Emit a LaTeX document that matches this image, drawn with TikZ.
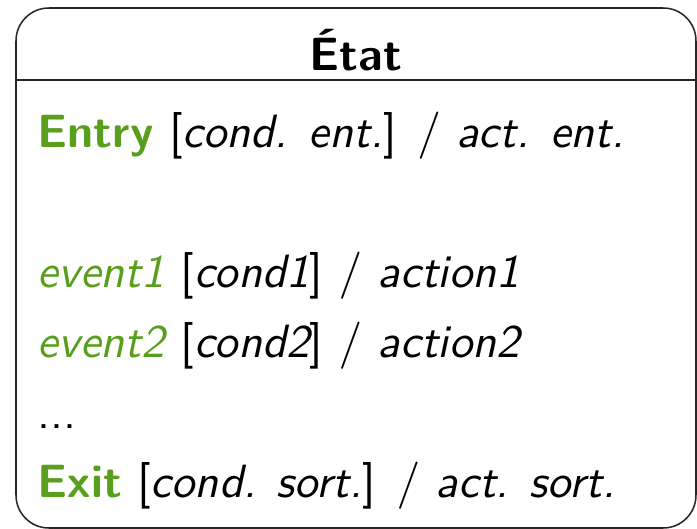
\documentclass[tikz,border=0pt]{standalone}
\usepackage{tikz}
\definecolor{vert}{RGB}{90,158,30}

\begin{document}
\begin{tikzpicture}[x=0.2315pt,y=-0.2315pt]
				\tikzstyle{every node}=[inner sep=0pt,anchor=base west,font=\sffamily\fontsize{10.8}{13}\selectfont]
				\tikzstyle{cadre}=[draw=black!85,line width=0.35pt,rounded corners=7.6pt]
				\useasboundingbox (0,0) rectangle (697,529);
				\draw[cadre] (16,8) rectangle (696,528);
				\draw[draw=black!85,line width=0.35pt] (16,80) -- (696,80);
				\node[anchor=base] (titre) at (356,70) {\bfseries \'Etat};
				\node (entry) at (37,147) {\textcolor{vert}{\bfseries Entry} [{\itshape cond. ent.}] $/$ {\itshape act. ent.}};
				\node (ev1) at (37,287) {\textcolor{vert}{\itshape event1} [{\itshape cond1}] $/$ {\itshape action1}};
				\node (ev2) at (37,357) {\textcolor{vert}{\itshape event2} [{\itshape cond2}] $/$ {\itshape action2}};
				\node (dots) at (37,428) {...};
				\node (exit) at (37,497) {\textcolor{vert}{\bfseries Exit} [{\itshape cond. sort.}] $/$ {\itshape act. sort.}};
\end{tikzpicture}
\end{document}
